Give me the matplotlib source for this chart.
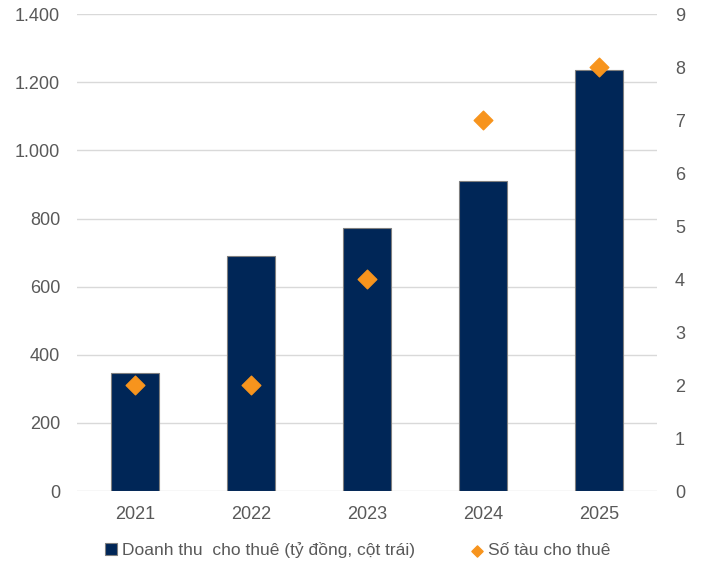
import matplotlib.pyplot as plt
import numpy as np

plt.rcParams['font.family'] = ['Liberation Sans', 'DejaVu Sans']

years = ['2021', '2022', '2023', '2024', '2025']
revenue = [346, 690, 772, 910, 1236]   # ty dong, left axis
ships = [2, 2, 4, 7, 8]                # right axis

left_ticks = [0, 200, 400, 600, 800, 1000, 1200, 1400]
left_labels = ['0', '200', '400', '600', '800', '1.000', '1.200', '1.400']

navy = '#002657'
orange = '#F7941D'
grid_c = '#d9d9d9'
text_c = '#595959'

fig = plt.figure(figsize=(7.04, 5.67), dpi=100)
ax = fig.add_axes([0.109, 0.134, 0.824, 0.841])
ax2 = ax.twinx()

x = np.arange(len(years))
ax.bar(x, revenue, width=0.41, color=navy, edgecolor='#7f7f7f', linewidth=0.8,
       zorder=3, label='Doanh thu  cho thuê (tỷ đồng, cột trái)')
ax2.scatter(x, ships, marker='D', s=90, color=orange, zorder=4,
            label='Số tàu cho thuê')

ax.set_xlim(-0.5, len(years) - 0.5)
ax.set_ylim(0, 1400)
ax2.set_ylim(0, 9)
ax.set_yticks(left_ticks)
ax.set_yticklabels(left_labels)
ax2.set_yticks(range(10))
ax.set_xticks(x)
ax.set_xticklabels(years)

ax.grid(axis='y', color=grid_c, linewidth=1, zorder=0)
for s in list(ax.spines.values()) + list(ax2.spines.values()):
    s.set_visible(False)
ax.tick_params(axis='y', length=0, labelsize=13, colors=text_c, pad=12)
ax.tick_params(axis='x', length=0, labelsize=13, colors=text_c, pad=11)
ax2.tick_params(axis='y', which='major', length=0, labelsize=13, colors=text_c,
                pad=13)

h1, l1 = ax.get_legend_handles_labels()
h2, l2 = ax2.get_legend_handles_labels()
leg = fig.legend(h1 + h2, l1 + l2, loc='lower center', bbox_to_anchor=(0.508, -0.012),
                 ncol=2, frameon=False, fontsize=12.5, handlelength=0.7,
                 handletextpad=0.3, columnspacing=3.2, markerscale=0.6)
for t in leg.get_texts():
    t.set_color(text_c)

fig.savefig('out.png', dpi=100)
